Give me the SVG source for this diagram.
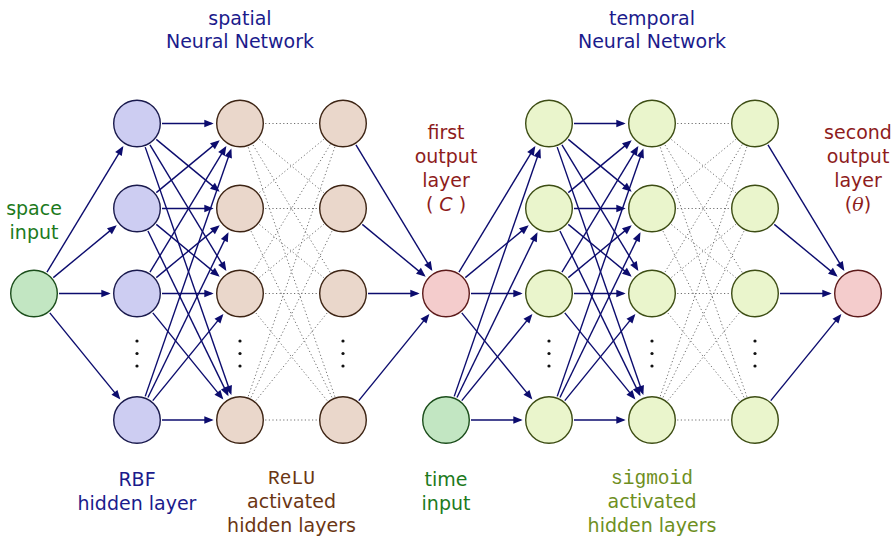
<svg xmlns="http://www.w3.org/2000/svg" width="892" height="537" viewBox="0 0 892 537">
<defs>
<marker id="ah" markerUnits="userSpaceOnUse" markerWidth="12" markerHeight="10" viewBox="-7 -4 10 8" refX="0" refY="0" orient="auto">
<path d="M-6,-3.2 L1.8,0 L-6,3.2 Z" fill="#0c0c6e"/>
</marker>
</defs>
<style>
.t{font-family:"DejaVu Sans",sans-serif;font-size:19px;text-anchor:middle}
.m{font-family:"Liberation Mono","DejaVu Sans Mono",monospace;font-size:19.5px}
.navy{fill:#1b1b8c}.green{fill:#1c7a1c}.red{fill:#8e1c1c}.brown{fill:#6b3613}.olive{fill:#6e8f1e}
.a{stroke:#0c0c6e;stroke-width:1.4;fill:none;marker-end:url(#ah)}
.d{stroke:#707070;stroke-width:1;stroke-dasharray:1.2 2.4;fill:none}
.n circle{stroke-width:1.4}
.gin{fill:#c2e6c2;stroke:#1b4d1b}
.rbf{fill:#cdcdf2;stroke:#1a1a4d}
.relu{fill:#ead7cb;stroke:#3d2414}
.out{fill:#f4cccc;stroke:#5c1a1a}
.sig{fill:#eaf5cc;stroke:#3d4d14}
.dots circle{fill:#111}
</style>

<g id="labels">
<text class="t navy" x="240" y="25">spatial</text>
<text class="t navy" x="240" y="48">Neural Network</text>
<text class="t navy" x="652" y="25">temporal</text>
<text class="t navy" x="652" y="48">Neural Network</text>
<text class="t green" x="34" y="215">space</text>
<text class="t green" x="34" y="239">input</text>
<text class="t red" x="446" y="139">first</text>
<text class="t red" x="446" y="163">output</text>
<text class="t red" x="446" y="187">layer</text>
<text class="t red" x="446" y="211">( <tspan font-style="italic">C</tspan> )</text>
<text class="t red" x="858" y="139">second</text>
<text class="t red" x="858" y="163">output</text>
<text class="t red" x="858" y="187">layer</text>
<text class="t red" x="858" y="211">(<tspan font-family="DejaVu Serif,serif" font-style="italic">θ</tspan>)</text>
<text class="t navy" x="137" y="486">RBF</text>
<text class="t navy" x="137" y="510">hidden layer</text>
<text class="t brown m" x="291.5" y="484">ReLU</text>
<text class="t brown" x="291.5" y="508">activated</text>
<text class="t brown" x="291.5" y="532">hidden layers</text>
<text class="t green" x="446" y="486">time</text>
<text class="t green" x="446" y="510">input</text>
<text class="t olive m" x="652" y="484">sigmoid</text>
<text class="t olive" x="652" y="508">activated</text>
<text class="t olive" x="652" y="532">hidden layers</text>
</g>

<g id="connectors">
<line class="a" x1="46.96" y1="272.12" x2="122.23" y2="147.88"/>
<line class="a" x1="53.28" y1="277.59" x2="115.02" y2="226.64"/>
<line class="a" x1="59" y1="293.5" x2="108.5" y2="293.5"/>
<line class="a" x1="49.79" y1="312.89" x2="119" y2="397.9"/>
<line class="a" x1="162" y1="123.5" x2="211.5" y2="123.5"/>
<line class="a" x1="156.28" y1="139.41" x2="218.02" y2="190.36"/>
<line class="a" x1="149.96" y1="144.88" x2="225.23" y2="269.12"/>
<line class="a" x1="145.21" y1="147.12" x2="230.65" y2="393.08"/>
<line class="a" x1="156.28" y1="192.59" x2="218.02" y2="141.64"/>
<line class="a" x1="162" y1="208.5" x2="211.5" y2="208.5"/>
<line class="a" x1="156.28" y1="224.41" x2="218.02" y2="275.36"/>
<line class="a" x1="147.95" y1="230.98" x2="227.52" y2="394.38"/>
<line class="a" x1="149.96" y1="272.12" x2="225.23" y2="147.88"/>
<line class="a" x1="156.28" y1="277.59" x2="218.02" y2="226.64"/>
<line class="a" x1="162" y1="293.5" x2="211.5" y2="293.5"/>
<line class="a" x1="152.79" y1="312.89" x2="222" y2="397.9"/>
<line class="a" x1="145.21" y1="396.38" x2="230.65" y2="150.42"/>
<line class="a" x1="147.95" y1="397.52" x2="227.52" y2="234.12"/>
<line class="a" x1="152.79" y1="400.61" x2="222" y2="315.6"/>
<line class="a" x1="162" y1="420" x2="211.5" y2="420"/>
<path class="d" d="M240,123.5L343,123.5M240,123.5L343,208.5M240,123.5L343,293.5M240,123.5L343,420M240,208.5L343,123.5M240,208.5L343,208.5M240,208.5L343,293.5M240,208.5L343,420M240,293.5L343,123.5M240,293.5L343,208.5M240,293.5L343,293.5M240,293.5L343,420M240,420L343,123.5M240,420L343,208.5M240,420L343,293.5M240,420L343,420"/>
<line class="a" x1="355.96" y1="144.88" x2="431.23" y2="269.12"/>
<line class="a" x1="362.28" y1="224.41" x2="424.02" y2="275.36"/>
<line class="a" x1="368" y1="293.5" x2="417.5" y2="293.5"/>
<line class="a" x1="358.79" y1="400.61" x2="428" y2="315.6"/>
<line class="a" x1="458.96" y1="272.12" x2="534.23" y2="147.88"/>
<line class="a" x1="465.28" y1="277.59" x2="527.02" y2="226.64"/>
<line class="a" x1="471" y1="293.5" x2="520.5" y2="293.5"/>
<line class="a" x1="461.79" y1="312.89" x2="531" y2="397.9"/>
<line class="a" x1="454.21" y1="396.38" x2="539.65" y2="150.42"/>
<line class="a" x1="456.95" y1="397.52" x2="536.52" y2="234.12"/>
<line class="a" x1="461.79" y1="400.61" x2="531" y2="315.6"/>
<line class="a" x1="471" y1="420" x2="520.5" y2="420"/>
<line class="a" x1="574" y1="123.5" x2="623.5" y2="123.5"/>
<line class="a" x1="568.28" y1="139.41" x2="630.02" y2="190.36"/>
<line class="a" x1="561.96" y1="144.88" x2="637.23" y2="269.12"/>
<line class="a" x1="557.21" y1="147.12" x2="642.65" y2="393.08"/>
<line class="a" x1="568.28" y1="192.59" x2="630.02" y2="141.64"/>
<line class="a" x1="574" y1="208.5" x2="623.5" y2="208.5"/>
<line class="a" x1="568.28" y1="224.41" x2="630.02" y2="275.36"/>
<line class="a" x1="559.95" y1="230.98" x2="639.52" y2="394.38"/>
<line class="a" x1="561.96" y1="272.12" x2="637.23" y2="147.88"/>
<line class="a" x1="568.28" y1="277.59" x2="630.02" y2="226.64"/>
<line class="a" x1="574" y1="293.5" x2="623.5" y2="293.5"/>
<line class="a" x1="564.79" y1="312.89" x2="634" y2="397.9"/>
<line class="a" x1="557.21" y1="396.38" x2="642.65" y2="150.42"/>
<line class="a" x1="559.95" y1="397.52" x2="639.52" y2="234.12"/>
<line class="a" x1="564.79" y1="400.61" x2="634" y2="315.6"/>
<line class="a" x1="574" y1="420" x2="623.5" y2="420"/>
<path class="d" d="M652,123.5L755,123.5M652,123.5L755,208.5M652,123.5L755,293.5M652,123.5L755,420M652,208.5L755,123.5M652,208.5L755,208.5M652,208.5L755,293.5M652,208.5L755,420M652,293.5L755,123.5M652,293.5L755,208.5M652,293.5L755,293.5M652,293.5L755,420M652,420L755,123.5M652,420L755,208.5M652,420L755,293.5M652,420L755,420"/>
<line class="a" x1="767.96" y1="144.88" x2="843.23" y2="269.12"/>
<line class="a" x1="774.28" y1="224.41" x2="836.02" y2="275.36"/>
<line class="a" x1="780" y1="293.5" x2="829.5" y2="293.5"/>
<line class="a" x1="770.79" y1="400.61" x2="840" y2="315.6"/>
</g>

<g id="space-input" class="n"><circle class="gin" cx="34" cy="293.5" r="23.3"/></g>
<g id="rbf-1" class="n"><circle class="rbf" cx="137" cy="123.5" r="23.3"/></g>
<g id="rbf-2" class="n"><circle class="rbf" cx="137" cy="208.5" r="23.3"/></g>
<g id="rbf-3" class="n"><circle class="rbf" cx="137" cy="293.5" r="23.3"/></g>
<g id="rbf-n" class="n"><circle class="rbf" cx="137" cy="420" r="23.3"/></g>
<g id="relu1-1" class="n"><circle class="relu" cx="240" cy="123.5" r="23.3"/></g>
<g id="relu1-2" class="n"><circle class="relu" cx="240" cy="208.5" r="23.3"/></g>
<g id="relu1-3" class="n"><circle class="relu" cx="240" cy="293.5" r="23.3"/></g>
<g id="relu1-n" class="n"><circle class="relu" cx="240" cy="420" r="23.3"/></g>
<g id="relu2-1" class="n"><circle class="relu" cx="343" cy="123.5" r="23.3"/></g>
<g id="relu2-2" class="n"><circle class="relu" cx="343" cy="208.5" r="23.3"/></g>
<g id="relu2-3" class="n"><circle class="relu" cx="343" cy="293.5" r="23.3"/></g>
<g id="relu2-n" class="n"><circle class="relu" cx="343" cy="420" r="23.3"/></g>
<g id="first-output" class="n"><circle class="out" cx="446" cy="293.5" r="23.3"/></g>
<g id="time-input" class="n"><circle class="gin" cx="446" cy="420" r="23.3"/></g>
<g id="sig1-1" class="n"><circle class="sig" cx="549" cy="123.5" r="23.3"/></g>
<g id="sig1-2" class="n"><circle class="sig" cx="549" cy="208.5" r="23.3"/></g>
<g id="sig1-3" class="n"><circle class="sig" cx="549" cy="293.5" r="23.3"/></g>
<g id="sig1-n" class="n"><circle class="sig" cx="549" cy="420" r="23.3"/></g>
<g id="sig2-1" class="n"><circle class="sig" cx="652" cy="123.5" r="23.3"/></g>
<g id="sig2-2" class="n"><circle class="sig" cx="652" cy="208.5" r="23.3"/></g>
<g id="sig2-3" class="n"><circle class="sig" cx="652" cy="293.5" r="23.3"/></g>
<g id="sig2-n" class="n"><circle class="sig" cx="652" cy="420" r="23.3"/></g>
<g id="sig3-1" class="n"><circle class="sig" cx="755" cy="123.5" r="23.3"/></g>
<g id="sig3-2" class="n"><circle class="sig" cx="755" cy="208.5" r="23.3"/></g>
<g id="sig3-3" class="n"><circle class="sig" cx="755" cy="293.5" r="23.3"/></g>
<g id="sig3-n" class="n"><circle class="sig" cx="755" cy="420" r="23.3"/></g>
<g id="second-output" class="n"><circle class="out" cx="858" cy="293.5" r="23.3"/></g>

<g id="vdots" class="dots">
<circle cx="137" cy="341" r="1.6"/><circle cx="137" cy="353.5" r="1.6"/><circle cx="137" cy="366" r="1.6"/>
<circle cx="240" cy="341" r="1.6"/><circle cx="240" cy="353.5" r="1.6"/><circle cx="240" cy="366" r="1.6"/>
<circle cx="343" cy="341" r="1.6"/><circle cx="343" cy="353.5" r="1.6"/><circle cx="343" cy="366" r="1.6"/>
<circle cx="549" cy="341" r="1.6"/><circle cx="549" cy="353.5" r="1.6"/><circle cx="549" cy="366" r="1.6"/>
<circle cx="652" cy="341" r="1.6"/><circle cx="652" cy="353.5" r="1.6"/><circle cx="652" cy="366" r="1.6"/>
<circle cx="755" cy="341" r="1.6"/><circle cx="755" cy="353.5" r="1.6"/><circle cx="755" cy="366" r="1.6"/>
</g>
</svg>
